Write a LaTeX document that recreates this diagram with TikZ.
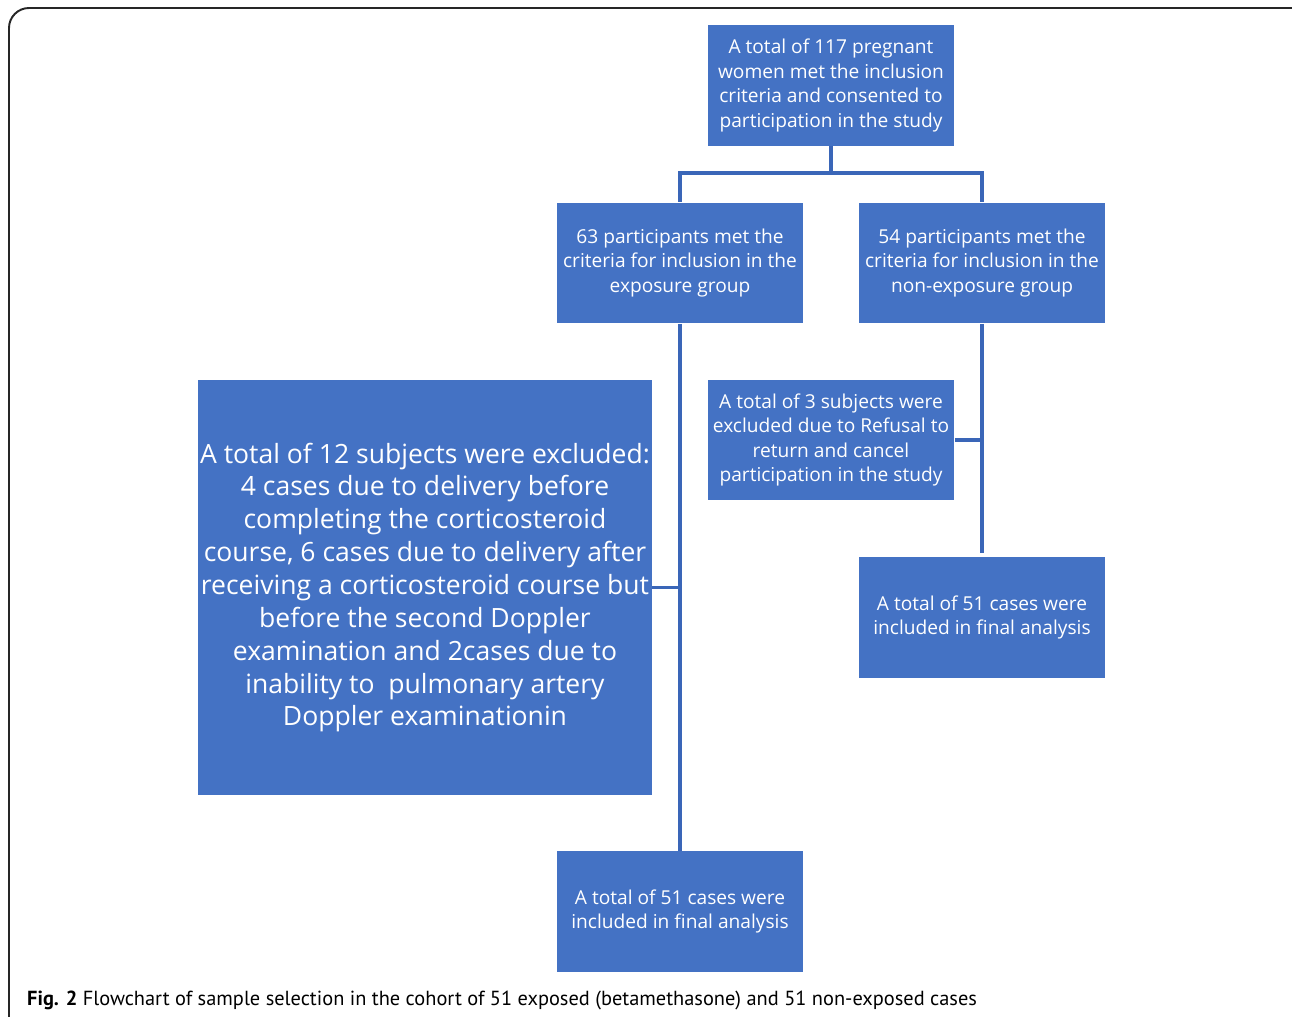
\documentclass[tikz,border=0pt]{standalone}
\usepackage{fontspec}
\setmainfont{Open Sans}
\newfontfamily\capfont{PT Sans}
\usepackage{xcolor}
\usepackage{tikz}
\definecolor{boxblue}{HTML}{4472C4}
\definecolor{lineblue}{HTML}{3A66B8}
\tikzset{
  stepbox/.style={fill=boxblue, text=white, align=center, inner sep=0pt,
    minimum width=4.94cm, minimum height=2.42cm,
    font=\fontsize{10.9}{14}\selectfont},
  bigbox/.style={stepbox, minimum width=9.08cm, minimum height=8.3cm,
    font=\fontsize{15.1}{18.7}\selectfont},
  link/.style={lineblue, line width=1.9pt},
}
\begin{document}
\begin{tikzpicture}[x=0.02cm, y=-0.02cm]
\clip (0,0) rectangle (1292,1017);
\draw[black!85, line width=1.1pt, rounded corners=0.4cm] (9,8) rectangle (1320,1045);

\node[stepbox] (total) at (831,85.5) {A total of 117 pregnant\\women met the inclusion\\criteria and consented to\\participation in the study};
\node[stepbox] (expo) at (680,263) {63 participants met the\\criteria for inclusion in the\\exposure group};
\node[stepbox] (nonexpo) at (982,263) {54 participants met the\\criteria for inclusion in the\\non-exposure group};
\node[bigbox] (exclA) at (425,587.5) {A total of 12 subjects were excluded:\\4 cases due to delivery before\\completing the corticosteroid\\course, 6 cases due to delivery after\\receiving a corticosteroid course but\\before the second Doppler\\examination and 2cases due to\\inability to~ pulmonary artery\\Doppler examinationin};
\node[stepbox] (exclB) at (831,440) {A total of 3 subjects were\\excluded due to Refusal to\\return and cancel\\participation in the study};
\node[stepbox] (finalB) at (982,617.5) {A total of 51 cases were\\included in final analysis};
\node[stepbox] (finalA) at (680,911.5) {A total of 51 cases were\\included in final analysis};

\coordinate (split) at (831,173);
\draw[link] (total.south) -- (split);
\draw[link] (split) -| (expo.north);
\draw[link] (split) -| (nonexpo.north);
\draw[link] (expo.south) -- (finalA.north);
\draw[link] (exclA.east) -- (exclA.east -| expo.south);
\draw[link, shorten >=0.08cm] (nonexpo.south) -- (finalB.north);
\draw[link] (exclB.east) -- (exclB.east -| nonexpo.south);

\node[anchor=base west, font=\capfont\fontsize{11.6}{13}\selectfont] (caption) at (21,1005)
  {\textbf{Fig. 2} Flowchart of sample selection in the cohort of 51 exposed (betamethasone) and 51 non-exposed cases};
\end{tikzpicture}
\end{document}
